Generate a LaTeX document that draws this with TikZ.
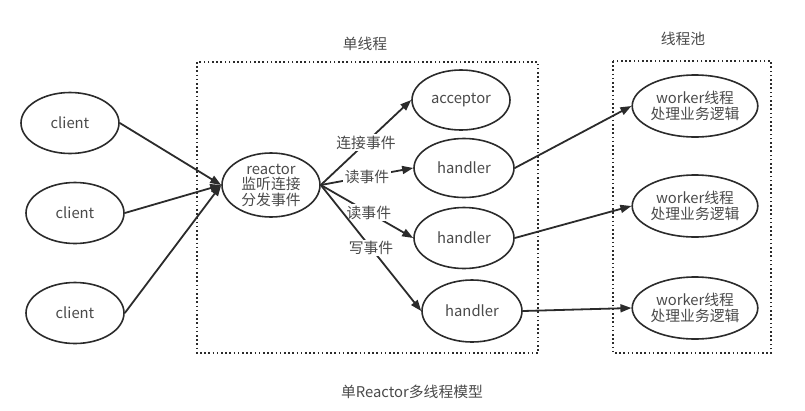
\documentclass[tikz,border=0pt]{standalone}
\usepackage{fontspec}
\setmainfont{Noto Sans CJK SC}
\usetikzlibrary{arrows.meta,shapes.geometric}
\definecolor{ln}{HTML}{2B2B2B}
\definecolor{tx}{HTML}{4A4A4A}
\begin{document}
\begin{tikzpicture}[x=1pt,y=-1pt,
  every node/.style={font=\fontsize{14.8}{16}\selectfont, text=tx},
  oval/.style={draw=ln, line width=1.6pt, ellipse, inner sep=0pt, minimum width=98pt, minimum height=61pt, align=center},
  arr/.style={draw=ln, line width=1.8pt, -{Triangle[length=11pt,width=8pt]}},
  lab/.style={fill=white, inner sep=1.5pt},
  dotbox/.style={draw=ln, line width=1.6pt, dash pattern=on 1.6pt off 2.6pt}]
\useasboundingbox (0,0) rectangle (805,410);
% boxes
\draw[dotbox] (197,62) rectangle (538,353);
\draw[dotbox] (613,61) rectangle (771,353);
\node (t1) at (365,44) {单线程};
\node (t2) at (683,39) {线程池};
\node (cap) at (412,392) {单Reactor多线程模型};
% nodes
\node[oval] (c1) at (70,123) {client};
\node[oval] (c2) at (75,213) {client};
\node[oval] (c3) at (75,313) {client};
\node[oval, minimum height=64pt, font=\fontsize{14.8}{15.5}\selectfont] (r) at (271,185) {reactor\\监听连接\\分发事件};
\node[oval, minimum height=60pt] (a) at (461,100) {acceptor};
\node[oval, minimum width=100pt, minimum height=59pt] (h1) at (464,168) {handler};
\node[oval, minimum width=100pt, minimum height=61pt] (h2) at (464,238) {handler};
\node[oval, minimum width=100pt, minimum height=62pt] (h3) at (472,311) {handler};
\node[oval, minimum width=117pt, minimum height=62pt] (w1) at (695,106) {worker线程\\处理业务逻辑};
\node[oval, minimum width=117pt, minimum height=62pt] (w2) at (695,206) {worker线程\\处理业务逻辑};
\node[oval, minimum width=117pt, minimum height=62pt] (w3) at (695,308) {worker线程\\处理业务逻辑};
% edges
\draw[arr] (c1.east) -- (r.west);
\draw[arr] (c2.east) -- (r.west);
\draw[arr] (c3.east) -- (r.west);
\draw[arr] (r.east) -- (a.west) node[lab, pos=0.5] {连接事件};
\draw[arr] (r.east) -- (h1.west) node[lab, pos=0.5] {读事件};
\draw[arr] (r.east) -- (h2.west) node[lab, pos=0.52] {读事件};
\draw[arr] (r.east) -- (h3.west) node[lab, pos=0.5] {写事件};
\draw[arr] (h1.east) -- (w1.west);
\draw[arr] (h2.east) -- (w2.west);
\draw[arr] (h3.east) -- (w3.west);
\end{tikzpicture}
\end{document}
